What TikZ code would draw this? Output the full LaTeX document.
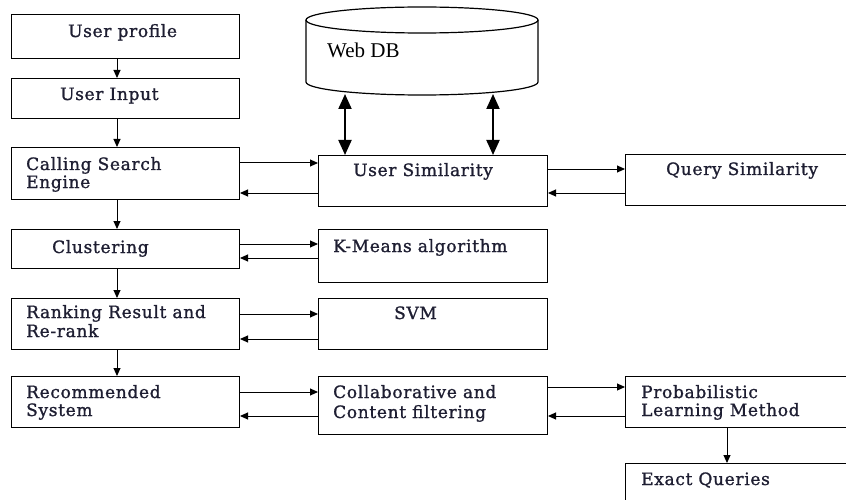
\documentclass[tikz,border=0pt]{standalone}
\usepackage{fontspec}
\setmainfont{DejaVu Serif}
\newfontfamily\boxfont[FakeBold=1.2, LetterSpace=4]{DejaVu Serif}
\newfontfamily\dbfont{Liberation Serif}
\usetikzlibrary{arrows.meta}
\definecolor{textc}{RGB}{30,30,50}
\begin{document}
\begin{tikzpicture}[x=1pt,y=-1pt,
  box/.style={draw=black, line width=1pt, inner sep=0pt, anchor=north west},
  lbl/.style={anchor=base west, inner sep=0pt, font=\boxfont\fontsize{17}{19}\selectfont, text=textc},
  arr/.style={line width=1pt, -{Triangle[length=8pt,width=7pt]}},
  dbl/.style={line width=2pt, {Triangle[length=15pt,width=13pt]}-{Triangle[length=15pt,width=13pt]}}]
\clip (0,0) rectangle (846,500);
\fill[white] (0,0) rectangle (846,500);
% boxes left
\node[box, minimum width=228pt, minimum height=44pt] (up) at (11,14) {};
\node[box, minimum width=228pt, minimum height=40pt] (ui) at (11,78) {};
\node[box, minimum width=228pt, minimum height=52pt] (cs) at (11,147) {};
\node[box, minimum width=228pt, minimum height=39pt] (cl) at (11,229) {};
\node[box, minimum width=228pt, minimum height=51pt] (rr) at (11,298) {};
\node[box, minimum width=228pt, minimum height=51pt] (rs) at (11,376) {};
% boxes middle
\node[box, minimum width=229pt, minimum height=51pt] (us) at (318,155) {};
\node[box, minimum width=229pt, minimum height=53pt] (km) at (318,229) {};
\node[box, minimum width=229pt, minimum height=51pt] (svm) at (318,298) {};
\node[box, minimum width=229pt, minimum height=58pt] (cf) at (318,376) {};
% boxes right
\node[box, minimum width=260pt, minimum height=51pt] (qs) at (625,154) {};
\node[box, minimum width=260pt, minimum height=51pt] (pl) at (625,376) {};
\node[box, minimum width=260pt, minimum height=60pt] (eq) at (625,463) {};
% cylinder
\draw[line width=1.2pt] (422,20) ellipse [x radius=116pt, y radius=13pt];
\draw[line width=1.2pt] (306,20) -- (306,82) arc[start angle=180,end angle=360,x radius=116pt,y radius=13pt] -- (538,20);
\node[anchor=base west, inner sep=0pt, font=\dbfont\fontsize{21}{23}\selectfont] (dbt) at (327,58) {Web DB};
% labels
\node[lbl] (t1) at (68,37) {User profile};
\node[lbl] (t2) at (60,100) {User Input};
\node[lbl] (t3a) at (26,170) {Calling Search};
\node[lbl] (t3b) at (26,188) {Engine};
\node[lbl] (t4) at (52,253) {Clustering};
\node[lbl] (t5a) at (26,318) {Ranking Result and};
\node[lbl] (t5b) at (26,337) {Re-rank};
\node[lbl] (t6a) at (26,398) {Recommended};
\node[lbl] (t6b) at (26,416) {System};
\node[lbl] (t7) at (353,176) {User Similarity};
\node[lbl] (t8) at (333,252) {K-Means algorithm};
\node[lbl] (t9) at (394,319) {SVM};
\node[lbl] (t10a) at (333,398) {Collaborative and};
\node[lbl] (t10b) at (333,418) {Content filtering};
\node[lbl] (t11) at (666,175) {Query Similarity};
\node[lbl] (t12a) at (641,398) {Probabilistic};
\node[lbl] (t12b) at (641,416) {Learning Method};
\node[lbl] (t13) at (641,485) {Exact Queries};
% helper coordinates
\coordinate (xL) at (117,0);
\coordinate (xR) at (727,0);
\coordinate (dbL) at (345,94);
\coordinate (dbR) at (493,94);
\coordinate (ya) at (0,163);
\coordinate (yb) at (0,193);
\coordinate (yc) at (0,244);
\coordinate (yd) at (0,258);
\coordinate (ye) at (0,314);
\coordinate (yf) at (0,339);
\coordinate (yg) at (0,392);
\coordinate (yh) at (0,416);
\coordinate (yi) at (0,169);
\coordinate (yj) at (0,387);
% vertical arrows
\draw[arr] (up.south -| xL) -- (ui.north -| xL);
\draw[arr] (ui.south -| xL) -- (cs.north -| xL);
\draw[arr] (cs.south -| xL) -- (cl.north -| xL);
\draw[arr] (cl.south -| xL) -- (rr.north -| xL);
\draw[arr] (rr.south -| xL) -- (rs.north -| xL);
\draw[arr] (pl.south -| xR) -- (eq.north -| xR);
% horizontal arrows
\draw[arr] (cs.east |- ya) -- (us.west |- ya);
\draw[arr] (us.west |- yb) -- (cs.east |- yb);
\draw[arr] (cl.east |- yc) -- (km.west |- yc);
\draw[arr] (km.west |- yd) -- (cl.east |- yd);
\draw[arr] (rr.east |- ye) -- (svm.west |- ye);
\draw[arr] (svm.west |- yf) -- (rr.east |- yf);
\draw[arr] (rs.east |- yg) -- (cf.west |- yg);
\draw[arr] (cf.west |- yh) -- (rs.east |- yh);
\draw[arr] (us.east |- yi) -- (qs.west |- yi);
\draw[arr] (qs.west |- yb) -- (us.east |- yb);
\draw[arr] (cf.east |- yj) -- (pl.west |- yj);
\draw[arr] (pl.west |- yh) -- (cf.east |- yh);
% double arrows
\draw[dbl] (dbL) -- (us.north -| dbL);
\draw[dbl] (dbR) -- (us.north -| dbR);
\end{tikzpicture}
\end{document}
